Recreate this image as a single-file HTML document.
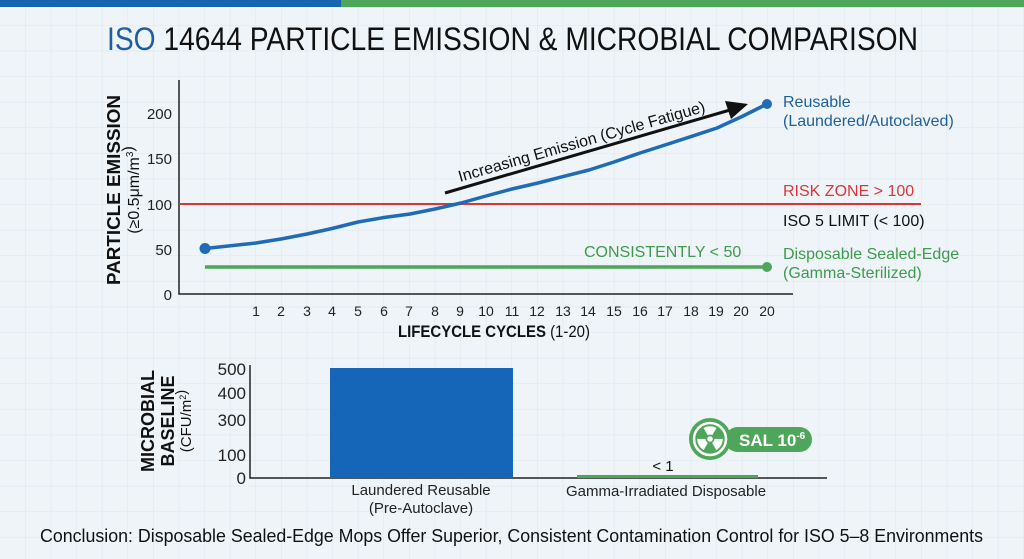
<!DOCTYPE html>
<html><head><meta charset="utf-8"><style>
html,body{margin:0;padding:0;width:1024px;height:559px;overflow:hidden;background:#eef4f8}
svg{display:block;font-family:"Liberation Sans Narrow","Liberation Sans",sans-serif}
</style></head><body>
<svg width="1024" height="559" viewBox="0 0 1024 559" xmlns="http://www.w3.org/2000/svg">
<defs>
<pattern id="g" width="25.6" height="25.6" patternUnits="userSpaceOnUse"><path d="M25.6 0V25.6H0" fill="none" stroke="#dde6ee" stroke-width="1"/></pattern>
</defs>
<rect width="1024" height="559" fill="#eef4f8"/>
<rect width="1024" height="559" fill="url(#g)"/>
<rect x="0" y="0" width="341" height="7" fill="#1565b0"/>
<rect x="341" y="0" width="683" height="7" fill="#4ea65a"/>
<text x="107" y="50" font-size="32" textLength="811" lengthAdjust="spacingAndGlyphs" fill="#111"><tspan fill="#1f5fa0">ISO</tspan> 14644 PARTICLE EMISSION &amp; MICROBIAL COMPARISON</text>

<!-- top chart -->
<path d="M179 80V294H793" fill="none" stroke="#222" stroke-width="1.5"/>
<g font-size="15" fill="#222" text-anchor="end">
<text x="172" y="119">200</text><text x="172" y="164">150</text><text x="172" y="210">100</text><text x="172" y="255">50</text><text x="172" y="300">0</text>
</g>
<g font-size="14" fill="#222" text-anchor="middle">
<text x="256" y="316">1</text><text x="281" y="316">2</text><text x="307" y="316">3</text><text x="332" y="316">4</text><text x="358" y="316">5</text><text x="384" y="316">6</text><text x="409" y="316">7</text><text x="435" y="316">8</text><text x="460" y="316">9</text><text x="486" y="316">10</text><text x="512" y="316">11</text><text x="537" y="316">12</text><text x="563" y="316">13</text><text x="588" y="316">14</text><text x="614" y="316">15</text><text x="640" y="316">16</text><text x="665" y="316">17</text><text x="691" y="316">18</text><text x="716" y="316">19</text><text x="741" y="316">20</text><text x="767" y="316">20</text>
</g>
<text x="398" y="337" font-size="17" fill="#111" textLength="192" lengthAdjust="spacingAndGlyphs"><tspan font-weight="bold">LIFECYCLE CYCLES</tspan> (1-20)</text>
<text transform="translate(120,190) rotate(-90)" text-anchor="middle" font-size="18" font-weight="bold" fill="#111" font-family="Liberation Sans, sans-serif" textLength="190" lengthAdjust="spacingAndGlyphs">PARTICLE EMISSION</text>
<text transform="translate(139,190) rotate(-90)" text-anchor="middle" font-size="16" fill="#111">(≥0.5μm/m<tspan font-size="10" dy="-6">3</tspan>)</text>

<line x1="179" y1="204" x2="921" y2="204" stroke="#d9363a" stroke-width="2"/>
<line x1="205" y1="267" x2="767" y2="267" stroke="#4ea65a" stroke-width="3.5"/>
<circle cx="767" cy="267" r="5" fill="#4ea65a"/>
<polyline fill="none" stroke="#1f6bb5" stroke-width="3.5" stroke-linejoin="round" points="205,248.5 256,243 281,239 307,234 332,228.5 358,222 384,217.5 410,214 435,209 461,203 486,196 512,189 538,183 563,176.6 589,170 614,162 640,153 665,145 691,136.6 717,128 742,116.5 767,104"/>
<circle cx="205" cy="248.5" r="5.5" fill="#1f6bb5"/>
<circle cx="767" cy="104" r="5" fill="#1f6bb5"/>
<path d="M445 193 L730 110" stroke="#111" stroke-width="3"/>
<polygon points="748,104 725,101 731,119" fill="#111"/>
<text transform="translate(460,182) rotate(-16)" font-size="16" fill="#111">Increasing Emission (Cycle Fatigue)</text>

<g font-size="16">
<text x="783" y="107" fill="#1f5f98">Reusable</text>
<text x="783" y="126" fill="#1f5f98">(Laundered/Autoclaved)</text>
<text x="783" y="196" fill="#d9363a">RISK ZONE &gt; 100</text>
<text x="783" y="226" fill="#111">ISO 5 LIMIT (&lt; 100)</text>
<text x="584" y="257" fill="#3e9a4c">CONSISTENTLY &lt; 50</text>
<text x="783" y="259" fill="#3e9a4c">Disposable Sealed-Edge</text>
<text x="783" y="278" fill="#3e9a4c">(Gamma-Sterilized)</text>
</g>

<!-- bottom chart -->
<path d="M250 365V478H827" fill="none" stroke="#222" stroke-width="1.5"/>
<g font-size="17" fill="#222" text-anchor="end">
<text x="246" y="375">500</text><text x="246" y="399">400</text><text x="246" y="426">300</text><text x="246" y="461">100</text><text x="246" y="484">0</text>
</g>
<text transform="translate(154,421) rotate(-90)" text-anchor="middle" font-size="18" font-weight="bold" fill="#111" font-family="Liberation Sans, sans-serif">MICROBIAL</text>
<text transform="translate(174,421) rotate(-90)" text-anchor="middle" font-size="18" font-weight="bold" fill="#111" font-family="Liberation Sans, sans-serif">BASELINE</text>
<text transform="translate(191,421) rotate(-90)" text-anchor="middle" font-size="15" fill="#111" font-family="Liberation Sans, sans-serif">(CFU/m<tspan font-size="9" dy="-5">2</tspan>)</text>
<rect x="330" y="368" width="183" height="110" fill="#1565b8"/>
<rect x="577" y="475" width="181" height="3" fill="#4ea65a"/>
<text x="663" y="471" font-size="15" fill="#111" text-anchor="middle">&lt; 1</text>
<g font-size="15" fill="#222" text-anchor="middle">
<text x="421" y="495">Laundered Reusable</text>
<text x="421" y="513">(Pre-Autoclave)</text>
<text x="666" y="496">Gamma-Irradiated Disposable</text>
</g>
<rect x="725" y="427" width="87" height="25" rx="12.5" fill="#4ea65a"/>
<circle cx="710" cy="439" r="21" fill="#4ea65a"/>
<circle cx="710" cy="439" r="16" fill="none" stroke="#fff" stroke-width="2.5"/>
<g fill="#fff" transform="translate(710,439)">
<path d="M0 0 L-6.5 -11 A13 13 0 0 1 6.5 -11 Z" transform="rotate(0)"/>
<path d="M0 0 L-6.5 -11 A13 13 0 0 1 6.5 -11 Z" transform="rotate(120)"/>
<path d="M0 0 L-6.5 -11 A13 13 0 0 1 6.5 -11 Z" transform="rotate(240)"/>
<circle r="4.5" fill="#4ea65a"/><circle r="2.8"/>
</g>
<text x="739" y="446" font-size="17" font-weight="bold" fill="#fff" font-family="Liberation Sans, sans-serif">SAL 10<tspan font-size="10" dy="-7">-6</tspan></text>

<text x="40" y="542" font-size="18" fill="#111" textLength="943" lengthAdjust="spacingAndGlyphs">Conclusion: Disposable Sealed-Edge Mops Offer Superior, Consistent Contamination Control for ISO 5–8 Environments</text>
</svg>
</body></html>
